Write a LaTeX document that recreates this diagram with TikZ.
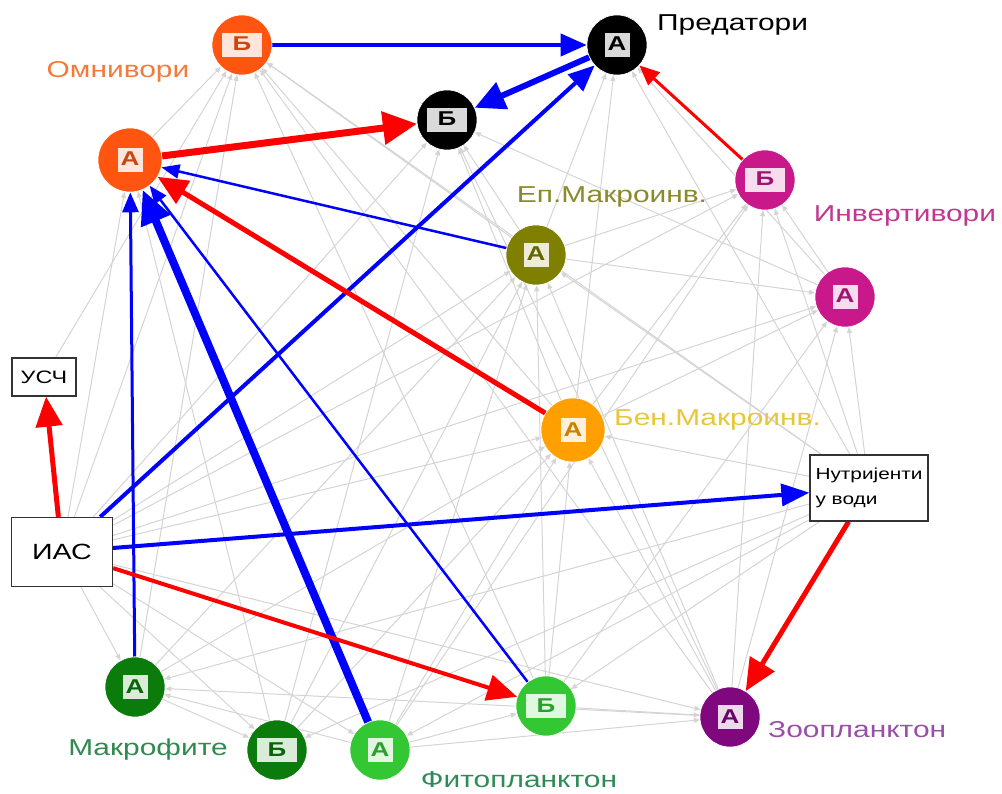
\documentclass[tikz,border=0pt]{standalone}
\usepackage{fontspec}
\setmainfont[FakeStretch=1.3]{Liberation Sans}
\usetikzlibrary{arrows.meta,backgrounds}
\definecolor{omc}{HTML}{FF5511}
\definecolor{omlab}{HTML}{F47A3A}
\definecolor{invc}{HTML}{C8188A}
\definecolor{invlab}{HTML}{C03890}
\definecolor{epc}{HTML}{7F7F00}
\definecolor{eplab}{HTML}{8A8A2A}
\definecolor{benc}{HTML}{FFA000}
\definecolor{benlab}{HTML}{E8C63A}
\definecolor{makc}{HTML}{0B7C0B}
\definecolor{maklab}{HTML}{2E8B4E}
\definecolor{fitc}{HTML}{33C833}
\definecolor{fitlab}{HTML}{2E8B57}
\definecolor{zooc}{HTML}{80087F}
\definecolor{zoolab}{HTML}{9A4EA8}
\definecolor{gedgec}{HTML}{D4D4D4}
\definecolor{bluec}{HTML}{0000FF}
\definecolor{redc}{HTML}{FF0000}
\newcommand{\lettbox}[3]{{\setlength{\fboxsep}{2pt}\colorbox{white!85!#1}{\makebox[#3][c]{\rule[-4pt]{0pt}{20pt}\textcolor{#1!80!black}{\fontsize{20}{22}\selectfont\bfseries #2}}}}}
\begin{document}
\begin{tikzpicture}[x=1pt,y=-1pt,
  nd/.style={circle, minimum size=60pt, inner sep=0pt, fill=#1, draw=white, line width=0.6pt},
  boxn/.style={rectangle, draw=black!80, line width=1.2pt, fill=white, inner sep=4pt},
  lab/.style={text=#1, font=\fontsize{23}{26}\selectfont, inner sep=0pt},
  gedge/.style={draw=gedgec, line width=1pt, -{Triangle[length=6pt,width=5pt]}},
  bl/.style={draw=bluec, line width=#1},
  rd/.style={draw=redc, line width=#1},
  tip/.style 2 args={-{Triangle[length=#1,width=#2]}}]
\useasboundingbox (0,0) rectangle (1002,794);

% nodes
\node[nd=omc] (omb) at (242,45) {\lettbox{omc}{Б}{36pt}};
\node[nd=black] (preda) at (617,45) {\lettbox{black}{А}{21pt}};
\node[nd=black] (predb) at (447,120) {\lettbox{black}{Б}{36pt}};
\node[nd=omc, minimum size=64pt] (oma) at (130,160) {\lettbox{omc}{А}{21pt}};
\node[nd=invc] (invb) at (765,180) {\lettbox{invc}{Б}{36pt}};
\node[nd=epc] (epa) at (536,255) {\lettbox{epc}{А}{21pt}};
\node[nd=invc] (inva) at (845,297) {\lettbox{invc}{А}{21pt}};
\node[nd=benc, minimum size=64pt] (bena) at (573,430) {\lettbox{benc}{А}{21pt}};
\node[nd=makc] (maka) at (135,687) {\lettbox{makc}{А}{21pt}};
\node[nd=makc] (makb) at (277,750) {\lettbox{makc}{Б}{36pt}};
\node[nd=fitc] (fita) at (380,750) {\lettbox{fitc}{А}{21pt}};
\node[nd=fitc] (fitb) at (546,706) {\lettbox{fitc}{Б}{36pt}};
\node[nd=zooc] (zooa) at (730,717) {\lettbox{zooc}{А}{21pt}};

\node[boxn, minimum width=64pt, minimum height=38pt, font=\fontsize{18}{20}\selectfont] (usc) at (44,377) {УСЧ};
\node[boxn, minimum width=101pt, minimum height=69pt, font=\fontsize{22}{24}\selectfont] (iac) at (62,552) {ИАС};
\node[boxn, minimum width=118pt, minimum height=66pt, font=\fontsize{16}{25}\selectfont, align=left] (nut) at (869,488) {Нутријенти\\у води};

% labels
\node[lab=omlab] (lom) at (118,72) {Омнивори};
\node[lab=black, anchor=west] (lpred) at (657,25) {Предатори};
\node[lab=eplab] (lep) at (612,197) {Еп.Макроинв.};
\node[lab=invlab] (linv) at (905,216) {Инвертивори};
\node[lab=benlab, anchor=west] (lben) at (614,420) {Бен.Макроинв.};
\node[lab=maklab] (lmak) at (148,750) {Макрофите};
\node[lab=fitlab] (lfit) at (519,780) {Фитопланктон};
\node[lab=zoolab, anchor=west] (lzoo) at (768,730) {Зоопланктон};

\begin{pgfonlayer}{background}
% gray edges
\foreach \a/\b in {iac/omb, iac/oma, iac/epa, iac/bena, iac/invb, iac/inva, iac/maka, iac/makb, iac/fita, iac/zooa, iac/predb,
  nut/maka, nut/makb, nut/fita, nut/fitb, nut/epa, nut/bena, nut/inva, nut/invb, nut/preda, nut/omb,
  zooa/inva, zooa/invb, zooa/epa, zooa/bena, zooa/omb, zooa/predb, zooa/maka,
  fitb/zooa, fitb/epa, fitb/bena, fitb/inva, fitb/omb,
  fita/zooa, fita/fitb, fita/epa, fita/bena, fita/invb, fita/maka,
  maka/makb, maka/omb, maka/epa, maka/bena,
  makb/epa, makb/bena, makb/predb, makb/oma,
  bena/preda, bena/predb, bena/omb, bena/invb, bena/inva,
  epa/preda, epa/predb, epa/invb, epa/inva, epa/omb,
  inva/preda, inva/invb, inva/predb, oma/omb, usc/omb}
  \draw[gedge] (\a) -- (\b);

% coloured edges
\draw[bl=4pt, tip={26pt}{22pt}] (omb) -- (preda);
\draw[bl=6pt, tip={30pt}{28pt}] (preda) -- (predb);
\draw[bl=4pt, tip={26pt}{22pt}] (iac) -- (preda);
\draw[rd=7pt, tip={34pt}{32pt}] (oma) -- (predb);
\draw[rd=3pt, tip={20pt}{17pt}] (invb) -- (preda);
\draw[bl=2.5pt, tip={18pt}{14pt}] (epa) -- (oma);
\draw[rd=5pt, tip={30pt}{26pt}] (bena) -- (oma);
\draw[bl=3pt, tip={20pt}{16pt}] (maka) -- (oma);
\draw[bl=8pt, tip={34pt}{30pt}] (fita) -- (oma);
\draw[bl=2.5pt, tip={18pt}{14pt}] (fitb) -- (oma);
\draw[rd=5pt, tip={30pt}{26pt}] (iac) -- (usc);
\draw[bl=4pt, tip={28pt}{22pt}] (iac) -- (nut);
\draw[rd=4pt, tip={30pt}{26pt}] (iac) -- (fitb);
\draw[rd=5pt, tip={32pt}{28pt}] (nut) -- (zooa);
\end{pgfonlayer}
\end{tikzpicture}
\end{document}
